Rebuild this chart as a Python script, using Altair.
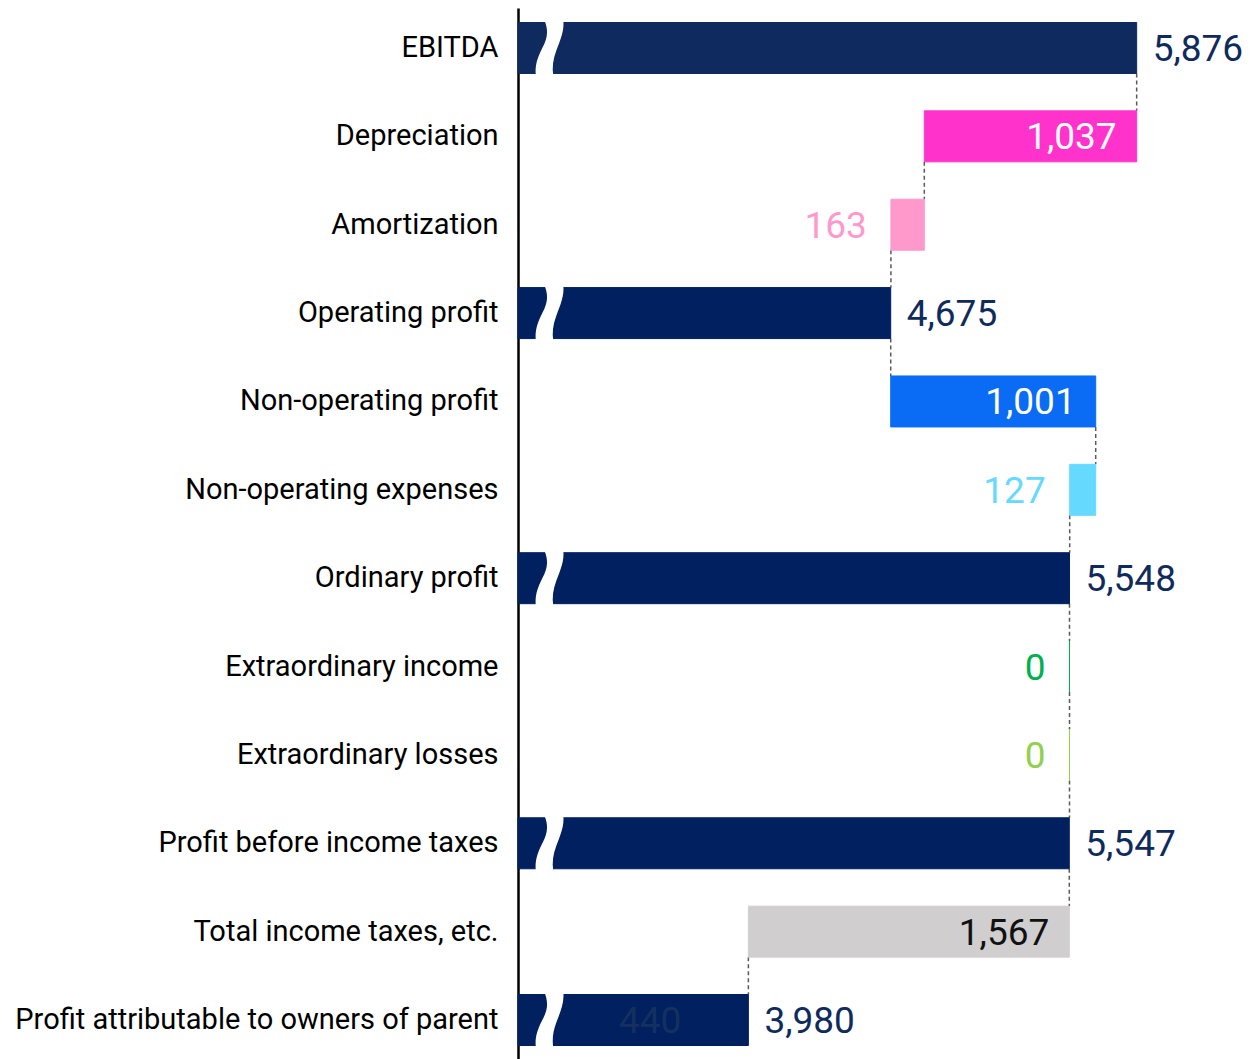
import altair as alt
import pandas as pd

categories = [
    "EBITDA", "Depreciation", "Amortization", "Operating profit",
    "Non-operating profit", "Non-operating expenses", "Ordinary profit",
    "Extraordinary income", "Extraordinary losses", "Profit before income taxes",
    "Total income taxes, etc.", "Profit attributable to owners of parent",
]
values = [5876, 1037, 163, 4675, 1001, 127, 5548, 0, 0, 5547, 1567, 3980]
kinds = ["total", "decrease", "decrease", "total", "increase", "decrease",
         "total", "increase", "decrease", "total", "decrease", "total"]
bar_colors = ["#0f2a5e", "#ff33cc", "#ff99cc", "#002060", "#0a6cf5", "#66d9ff",
              "#002060", "#00b050", "#92d050", "#002060", "#d0cece", "#002060"]
label_colors = ["#0f2b5b", "#ffffff", "#ff99cc", "#0f2b5b", "#ffffff", "#66d9ff",
                "#0f2b5b", "#00b050", "#92d050", "#0f2b5b", "#111111", "#0f2b5b"]
label_styles = ["out_right", "in_right", "out_left", "out_right", "in_right", "out_left",
                "out_right", "out_left", "out_left", "out_right", "in_right", "out_right"]
hidden_label = "440"
hidden_label_row = "Profit attributable to owners of parent"

AXIS_MIN = 2855
AXIS_MAX = 6405
BREAK_AT = 3011

# band layout of the category axis
PAD_INNER = 0.423
PAD_OUTER = 0.164
PLOT_H = 1052
PLOT_W = 727

rows = []
cum = 0
for i, (c, v, k, bc, lc, ls) in enumerate(zip(categories, values, kinds, bar_colors,
                                               label_colors, label_styles)):
    if k == "total":
        start, end = AXIS_MIN, v
    elif k == "increase":
        start, end = cum, cum + v
    else:
        start, end = cum, cum - v
    cum = end
    rows.append(dict(cat=c, idx=i, value=v, kind=k, lo=min(start, end), hi=max(start, end),
                     end=end, color=bc, lcolor=lc, lstyle=ls,
                     label=f"{v:,}", bx=BREAK_AT))
df = pd.DataFrame(rows)

# connectors: from the bottom of bar i to the top of bar i+1, at the end value of bar i
n = len(categories)
step_px = PLOT_H / (n - PAD_INNER + 2 * PAD_OUTER)
half_bar_frac = (1 - PAD_INNER) / 2
center_shift = PAD_OUTER + half_bar_frac
conn = pd.DataFrame([
    dict(x=rows[i]["end"], y1=i + half_bar_frac, y2=i + 1 - half_bar_frac)
    for i in range(n - 1)
])
yq_scale = alt.Scale(domain=[-center_shift, PLOT_H / step_px - center_shift],
                     reverse=True, nice=False, zero=False)

hid = pd.DataFrame([dict(cat=hidden_label_row, label=hidden_label,
                         xm=(AXIS_MIN + values[-1]) / 2)])

xscale = alt.Scale(domain=[AXIS_MIN, AXIS_MAX], nice=False, zero=False)
yscale = alt.Scale(domain=categories, paddingInner=PAD_INNER, paddingOuter=PAD_OUTER)

FONT = "Roboto"

bars = alt.Chart(df).mark_bar(strokeWidth=1).encode(
    y=alt.Y("cat:N", scale=yscale,
            axis=alt.Axis(title=None, ticks=False, domainColor="#000000", domainWidth=2.5,
                          labelFont=FONT, labelFontSize=29, labelColor="#000000",
                          labelPadding=20, labelLimit=0)),
    x=alt.X("lo:Q", scale=xscale, axis=None),
    x2="hi:Q",
    color=alt.Color("color:N", scale=None),
    stroke=alt.Stroke("color:N", scale=None),
)

BREAK_PATH = ("M -0.22 -1.1 C -0.08 -0.75 -0.05 -0.45 -0.3 0.0 C -0.5 0.4 -0.6 0.7 -0.55 1.1 "
              "L 0.13 1.1 C 0.08 0.75 0.12 0.45 0.25 0.1 C 0.4 -0.3 0.58 -0.7 0.52 -1.1 Z")

breaks = alt.Chart(df).transform_filter(alt.datum.kind == "total").mark_point(
    shape=BREAK_PATH, filled=True, fill="#ffffff", opacity=1, size=2601, strokeOpacity=0,
).encode(
    x=alt.X("bx:Q", scale=xscale),
    y=alt.Y("cat:N", scale=yscale),
)

def labels(style, field, align, dx):
    return alt.Chart(df).transform_filter(alt.datum.lstyle == style).mark_text(
        font=FONT, fontSize=37, align=align, baseline="middle", dx=dx, dy=2,
    ).encode(
        x=alt.X(f"{field}:Q", scale=xscale),
        y=alt.Y("cat:N", scale=yscale),
        text="label:N",
        color=alt.Color("lcolor:N", scale=None),
    )

lab_out_right = labels("out_right", "hi", "left", 16)
lab_in_right = labels("in_right", "hi", "right", -20)
lab_out_left = labels("out_left", "lo", "right", -24)

lab_hidden = alt.Chart(hid).mark_text(
    font=FONT, fontSize=37, align="center", baseline="middle", dx=17, dy=2, color="#16305e",
).encode(
    x=alt.X("xm:Q", scale=xscale),
    y=alt.Y("cat:N", scale=yscale),
    text="label:N",
)

main = alt.layer(bars, breaks, lab_out_right, lab_in_right, lab_out_left, lab_hidden)

connectors = alt.Chart(conn).mark_rule(
    color="#5a5a5a", strokeWidth=1.5, strokeDash=[4, 3],
).encode(
    x=alt.X("x:Q", scale=xscale, axis=None),
    y=alt.Y("y1:Q", scale=yq_scale, axis=None),
    y2="y2:Q",
)

chart = alt.layer(connectors, main).resolve_scale(y="independent").properties(
    width=PLOT_W, height=PLOT_H,
    autosize=alt.AutoSizeParams(type="none"),
    padding={"left": 510, "top": 0, "right": 1, "bottom": 0},
).configure_view(stroke=None).configure_axis(grid=False)

chart.save("out.html", embed_options={"renderer": "svg", "actions": False})
